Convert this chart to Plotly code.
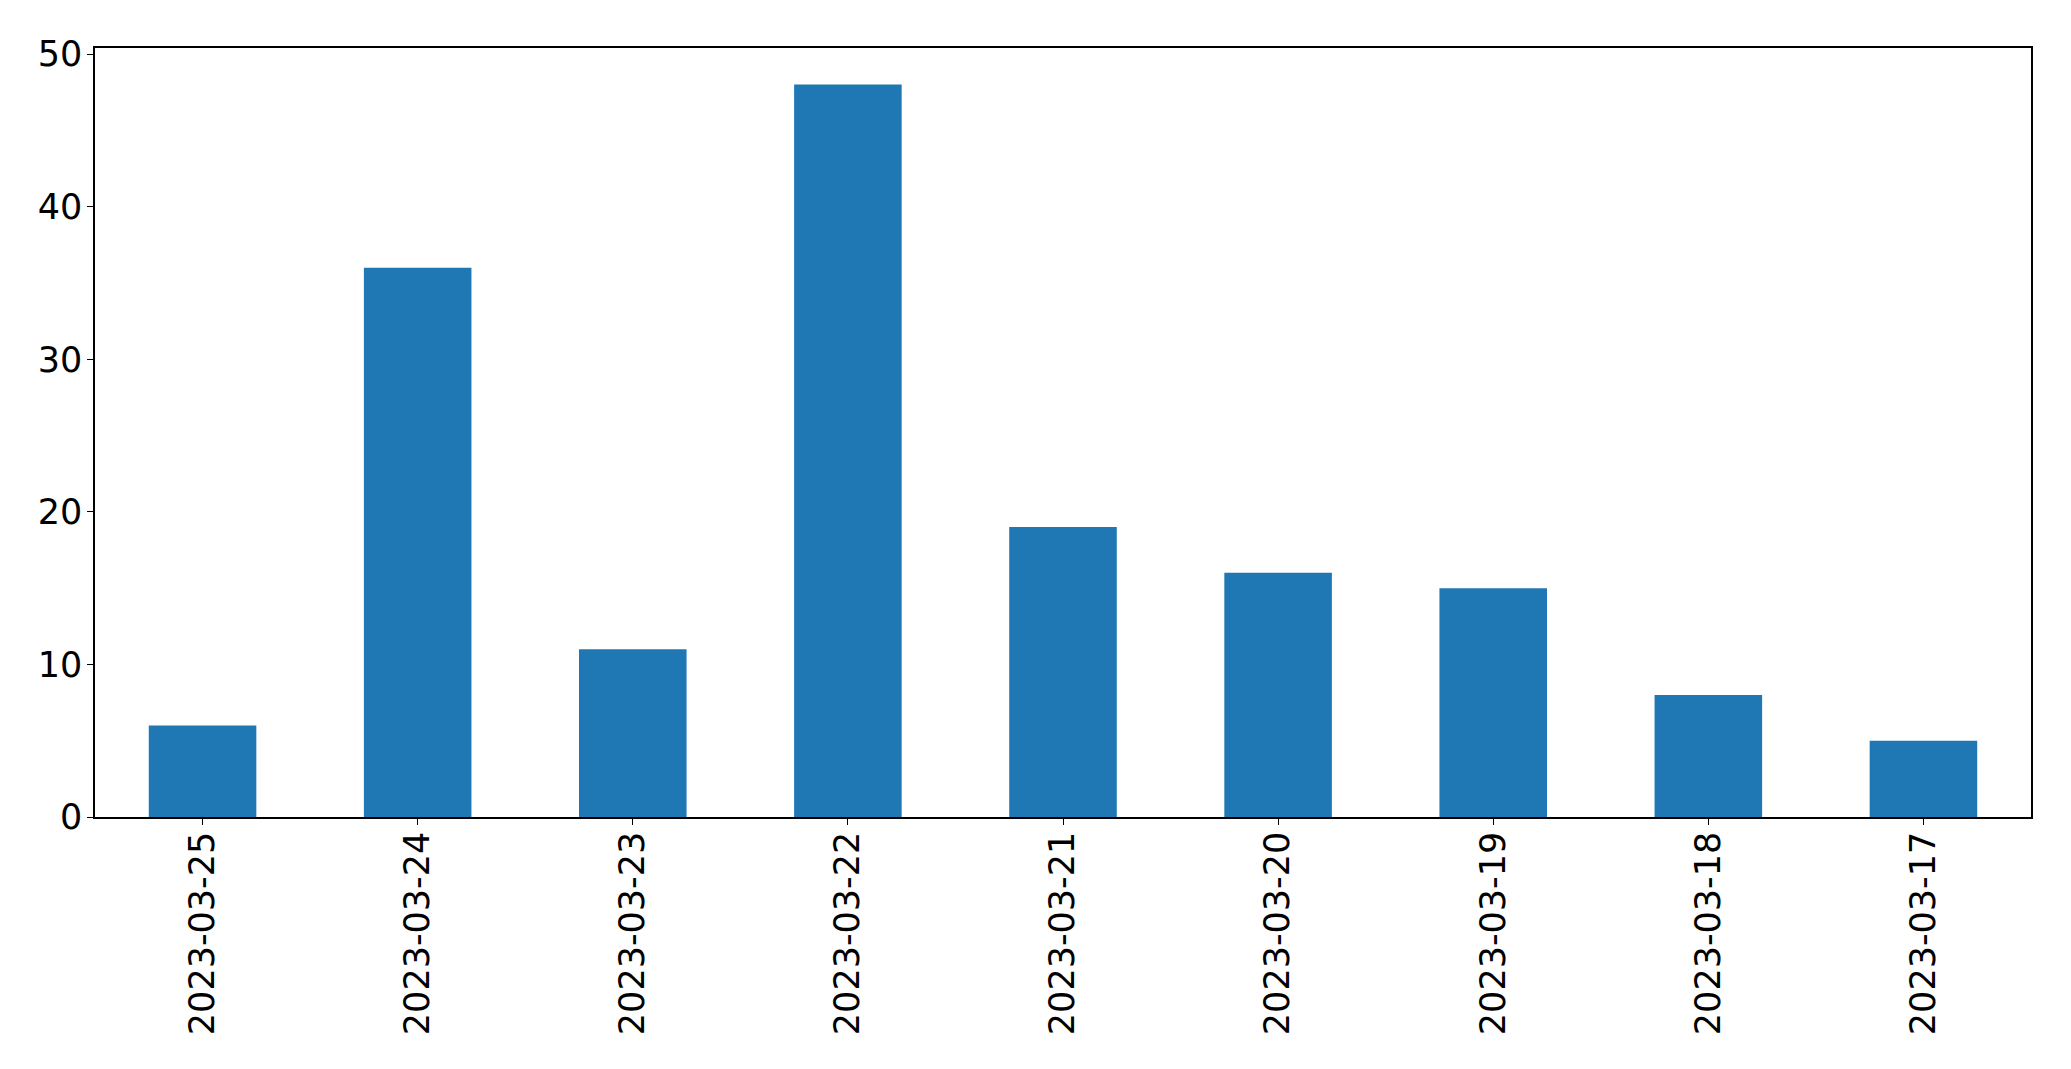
import plotly.graph_objects as go

dates = ["2023-03-25", "2023-03-24", "2023-03-23", "2023-03-22", "2023-03-21",
         "2023-03-20", "2023-03-19", "2023-03-18", "2023-03-17"]
counts = [6, 36, 11, 48, 19, 16, 15, 8, 5]
y_ticks = [0, 10, 20, 30, 40, 50]

fig = go.Figure(go.Bar(x=dates, y=counts, width=0.5, marker=dict(color="#1f77b4", line=dict(width=0))))

# page body has an 8px default margin; compensate
fig.update_layout(
    width=2063, height=1061,
    margin=dict(l=87, r=40, t=40, b=252),
    paper_bgcolor="white", plot_bgcolor="white",
    font=dict(family="DejaVu Sans", size=35, color="black"),
    showlegend=False,
)
fig.update_xaxes(type="category", range=[-0.5, len(dates) - 0.5], tickangle=-90,
                 showline=True, linecolor="black", linewidth=1.5, mirror=True,
                 ticks="outside", ticklen=6, tickcolor="black", showgrid=False,
                 ticklabelstandoff=-7)
fig.update_yaxes(range=[0, 50.4], tickvals=y_ticks, showline=True, linecolor="black",
                 linewidth=1.5, mirror=True, ticks="outside", ticklen=6, tickcolor="black",
                 showgrid=False, zeroline=False, ticklabelstandoff=-2)

fig.write_html("out.html")
